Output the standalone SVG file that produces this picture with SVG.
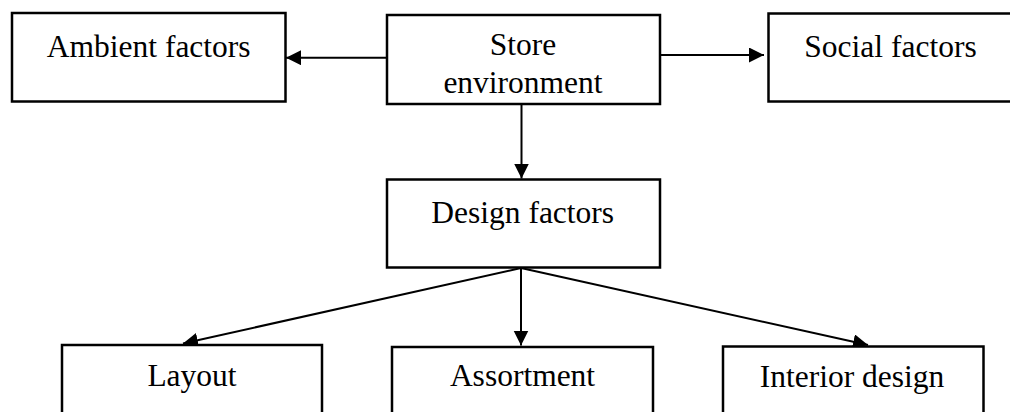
<svg xmlns="http://www.w3.org/2000/svg" width="1010" height="412" viewBox="0 0 1010 412">
<style>
.box{fill:#fff;stroke:#000;stroke-width:2.5}
.t{font-family:"Liberation Serif","Times New Roman",serif;font-size:31.5px;fill:#000;text-anchor:middle}
.c{fill:none;stroke:#000;stroke-width:2}
</style>
<defs>
<marker id="ah" markerUnits="userSpaceOnUse" markerWidth="16" markerHeight="16" refX="15" refY="7.5" orient="auto">
<path d="M0,0 L15,7.5 L0,15 z" fill="#000"/>
</marker>
</defs>
<rect width="1010" height="412" fill="#fff"/>
<g id="connectors">
<path class="c" d="M387 57.7 L286 57.7" marker-end="url(#ah)"/>
<path class="c" d="M660 55 L764 55" marker-end="url(#ah)"/>
<path class="c" d="M521.5 104 L521.5 178.5" marker-end="url(#ah)"/>
<path class="c" d="M521 268 L183 343.5" marker-end="url(#ah)"/>
<path class="c" d="M521 268 L521 345.5" marker-end="url(#ah)"/>
<path class="c" d="M521 268 L868 345" marker-end="url(#ah)"/>
</g>
<g id="ambient">
<rect class="box" x="12" y="13" width="273.5" height="88.5"/>
<text class="t" x="148.7" y="57">Ambient factors</text>
</g>
<g id="store">
<rect class="box" x="387" y="15" width="273" height="89"/>
<text class="t" x="523" y="55">Store</text>
<text class="t" x="523" y="93">environment</text>
</g>
<g id="social">
<rect class="box" x="768.5" y="13.5" width="300" height="88"/>
<text class="t" x="890.5" y="57">Social factors</text>
</g>
<g id="design">
<rect class="box" x="387" y="179.5" width="273" height="88"/>
<text class="t" x="522.7" y="222.7">Design factors</text>
</g>
<g id="layout">
<rect class="box" x="62" y="345" width="260" height="100"/>
<text class="t" x="192" y="386">Layout</text>
</g>
<g id="assortment">
<rect class="box" x="392" y="347" width="261" height="100"/>
<text class="t" x="522.5" y="386">Assortment</text>
</g>
<g id="interior">
<rect class="box" x="723" y="346.5" width="260.5" height="100"/>
<text class="t" x="852" y="386.7">Interior design</text>
</g>
</svg>
